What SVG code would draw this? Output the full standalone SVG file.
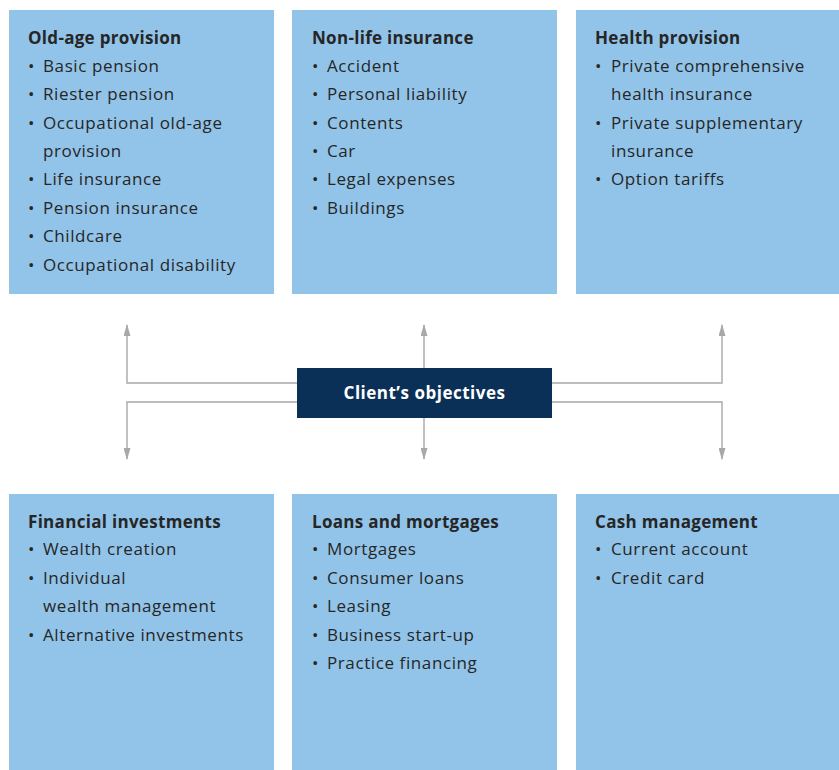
<svg xmlns="http://www.w3.org/2000/svg" width="839" height="770" viewBox="0 0 839 770">
<style>
.box{fill:#92c4e9}
.h{font-family:"Open Sans","Noto Sans",sans-serif;font-weight:bold;font-size:17px;letter-spacing:0.3px;fill:#262626}
.t{font-family:"Open Sans","Noto Sans",sans-serif;font-size:17px;letter-spacing:0.6px;fill:#262626}
.c{stroke:#a8a8a8;stroke-width:1.4;fill:none}
.ct{font-family:"Open Sans","Noto Sans",sans-serif;font-weight:bold;font-size:17px;letter-spacing:0.5px;fill:#ffffff}
</style>
<defs>
<marker id="ah" viewBox="0 0 12 7" refX="11" refY="3.5" markerWidth="12" markerHeight="7" markerUnits="userSpaceOnUse" orient="auto">
<path d="M0,0 L12,3.5 L0,7 z" fill="#a8a8a8"/>
</marker>
</defs>
<rect width="839" height="770" fill="#ffffff"/>
<g id="connectors">
<path class="c" d="M297,383 H127 V325" marker-end="url(#ah)"/>
<path class="c" d="M297,402 H127 V459" marker-end="url(#ah)"/>
<path class="c" d="M424,368 V325" marker-end="url(#ah)"/>
<path class="c" d="M424,418 V459" marker-end="url(#ah)"/>
<path class="c" d="M552,383 H722 V325" marker-end="url(#ah)"/>
<path class="c" d="M552,402 H722 V459" marker-end="url(#ah)"/>
</g>
<g id="old-age">
<rect class="box" x="9" y="10" width="265" height="284"/>
<text class="h" x="28" y="44">Old-age provision</text>
<g class="t">
<text x="28" y="72">•</text><text x="43" y="72">Basic pension</text>
<text x="28" y="100">•</text><text x="43" y="100">Riester pension</text>
<text x="28" y="129">•</text><text x="43" y="129">Occupational old-age</text>
<text x="43" y="157">provision</text>
<text x="28" y="185">•</text><text x="43" y="185">Life insurance</text>
<text x="28" y="214">•</text><text x="43" y="214">Pension insurance</text>
<text x="28" y="242">•</text><text x="43" y="242">Childcare</text>
<text x="28" y="271">•</text><text x="43" y="271">Occupational disability</text>
</g>
</g>
<g id="non-life">
<rect class="box" x="292" y="10" width="265" height="284"/>
<text class="h" x="312" y="44">Non-life insurance</text>
<g class="t">
<text x="312" y="72">•</text><text x="327" y="72">Accident</text>
<text x="312" y="100">•</text><text x="327" y="100">Personal liability</text>
<text x="312" y="129">•</text><text x="327" y="129">Contents</text>
<text x="312" y="157">•</text><text x="327" y="157">Car</text>
<text x="312" y="185">•</text><text x="327" y="185">Legal expenses</text>
<text x="312" y="214">•</text><text x="327" y="214">Buildings</text>
</g>
</g>
<g id="health">
<rect class="box" x="576" y="10" width="263" height="284"/>
<text class="h" x="595" y="44">Health provision</text>
<g class="t">
<text x="595" y="72">•</text><text x="611" y="72">Private comprehensive</text>
<text x="611" y="100">health insurance</text>
<text x="595" y="129">•</text><text x="611" y="129">Private supplementary</text>
<text x="611" y="157">insurance</text>
<text x="595" y="185">•</text><text x="611" y="185">Option tariffs</text>
</g>
</g>
<g id="objectives">
<rect x="297" y="368" width="255" height="50" fill="#0b3058"/>
<text class="ct" x="424.5" y="399" text-anchor="middle">Client’s objectives</text>
</g>
<g id="financial">
<rect class="box" x="9" y="494" width="265" height="276"/>
<text class="h" x="28" y="528">Financial investments</text>
<g class="t">
<text x="28" y="555">•</text><text x="43" y="555">Wealth creation</text>
<text x="28" y="584">•</text><text x="43" y="584">Individual</text>
<text x="43" y="612">wealth management</text>
<text x="28" y="641">•</text><text x="43" y="641">Alternative investments</text>
</g>
</g>
<g id="loans">
<rect class="box" x="292" y="494" width="265" height="276"/>
<text class="h" x="312" y="528">Loans and mortgages</text>
<g class="t">
<text x="312" y="555">•</text><text x="327" y="555">Mortgages</text>
<text x="312" y="584">•</text><text x="327" y="584">Consumer loans</text>
<text x="312" y="612">•</text><text x="327" y="612">Leasing</text>
<text x="312" y="641">•</text><text x="327" y="641">Business start-up</text>
<text x="312" y="669">•</text><text x="327" y="669">Practice financing</text>
</g>
</g>
<g id="cash">
<rect class="box" x="576" y="494" width="263" height="276"/>
<text class="h" x="595" y="528">Cash management</text>
<g class="t">
<text x="595" y="555">•</text><text x="611" y="555">Current account</text>
<text x="595" y="584">•</text><text x="611" y="584">Credit card</text>
</g>
</g>
</svg>
